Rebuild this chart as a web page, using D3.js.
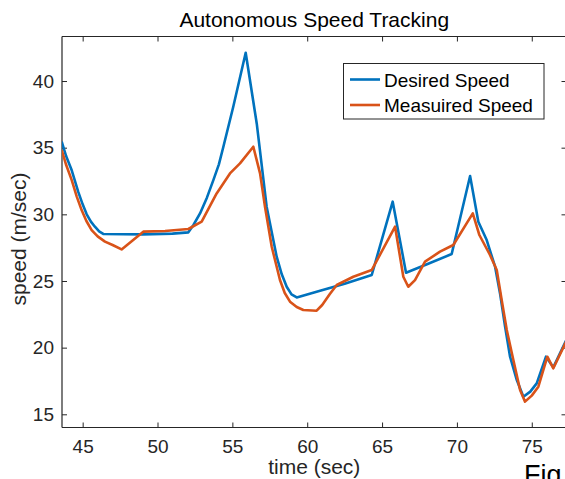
<!DOCTYPE html>
<html><head><meta charset="utf-8">
<script src="https://cdn.jsdelivr.net/npm/d3@7"></script>
<style>body{margin:0;background:#fff;}svg{display:block;}</style>
</head><body>
<script>
const desiredTime  = [43.6,43.9,44.27,44.7,45.0,45.27,45.55,45.82,46.1,46.4,49.0,51.0,52.06,52.4,52.84,53.3,53.73,54.1,54.4,55.06,55.89,56.63,57.29,57.96,58.3,58.63,58.95,59.3,60.86,62.5,64.31,65.71,66.6,68.0,69.65,70.88,71.43,71.99,72.55,72.88,73.22,73.55,74.0,74.44,74.9,75.33,75.95,76.44,77.32];
const desiredSpeed = [35.45,34.35,33.3,31.7,30.75,30.0,29.45,29.07,28.72,28.52,28.5,28.55,28.65,29.2,30.07,31.25,32.57,33.75,35.07,38.07,42.12,36.8,30.57,26.82,25.5,24.57,24.0,23.77,24.27,24.8,25.45,30.95,25.62,26.25,27.02,32.87,29.45,28.07,26.07,24.07,21.57,19.32,17.57,16.32,16.7,17.32,19.32,18.52,20.6];
const measuredTime  = [43.6,43.9,44.27,44.6,44.93,45.25,45.6,46.0,46.49,47.0,47.6,49.05,50.5,52.06,52.95,53.95,54.84,55.51,56.4,56.85,57.18,57.63,58.18,58.5,58.85,59.3,59.74,60.63,61.0,61.5,61.97,63.08,64.31,65.87,66.42,66.75,67.2,67.87,68.87,69.76,71.06,71.5,72.21,72.66,72.99,73.33,73.77,74.22,74.55,75.0,75.44,76.04,76.44,77.32];
const measuredSpeed = [34.82,33.7,32.57,31.35,30.32,29.5,28.82,28.35,27.95,27.7,27.37,28.7,28.75,28.9,29.45,31.57,33.07,33.82,35.07,33.07,30.57,27.57,25.07,24.1,23.45,23.05,22.82,22.77,23.2,24.0,24.7,25.32,25.82,29.07,25.32,24.57,25.07,26.45,27.2,27.7,30.07,28.45,26.95,25.82,23.57,21.32,19.07,16.82,15.95,16.4,17.07,19.32,18.45,20.5];
const xTicks = [45,50,55,60,65,70,75];
const yTicks = [15,20,25,30,35,40];
const seriesNames = ["Desired Speed","Measuired Speed"];
const seriesColors = ["#0072BD","#D95319"];

const W=565,H=479;
const L=62,R=566.5,T=36.5,B=427.5;
const svg=d3.select("body").append("svg").attr("width",W).attr("height",H);
const x=d3.scaleLinear().domain([43.62,77.32]).range([L,R]);
const y=d3.scaleLinear().domain([14.01,43.34]).range([B,T]);
const font="Liberation Sans, Arial, Helvetica, sans-serif";
const axisCol="#262626";

svg.append("defs").append("clipPath").attr("id","clip").append("rect")
  .attr("x",L).attr("y",T).attr("width",R-L).attr("height",B-T);

// axes
const bx=svg.append("g").attr("transform",`translate(0,${B})`)
  .call(d3.axisBottom(x).tickValues(xTicks).tickSize(-5).tickPadding(12).tickFormat(d3.format("d")));
const tx=svg.append("g").attr("transform",`translate(0,${T})`)
  .call(d3.axisTop(x).tickValues(xTicks).tickSize(-5).tickFormat(""));
const ly=svg.append("g").attr("transform",`translate(${L},0)`)
  .call(d3.axisLeft(y).tickValues(yTicks).tickSize(-5).tickPadding(8).tickFormat(d3.format("d")));
const ry=svg.append("g").attr("transform",`translate(${R},0)`)
  .call(d3.axisRight(y).tickValues(yTicks).tickSize(-5).tickFormat(""));
[bx,tx,ly,ry].forEach(g=>{
  g.select(".domain").attr("stroke",axisCol).attr("stroke-width",1.2);
  g.selectAll(".tick line").attr("stroke",axisCol).attr("stroke-width",1);
  g.selectAll(".tick text").attr("fill",axisCol).style("font-family",font).style("font-size","19px");
});
bx.select(".domain").attr("d",`M${L},0H${R}`);
tx.select(".domain").attr("d",`M${L},0H${R}`);
ly.select(".domain").attr("d",`M0,${T}V${B}`);
ry.select(".domain").attr("d",`M0,${T}V${B}`);
bx.selectAll(".tick text").attr("dy","0.71em");

const line=d3.line().x(d=>x(d[0])).y(d=>y(d[1])).curve(d3.curveLinear);
const series=[d3.zip(desiredTime,desiredSpeed),d3.zip(measuredTime,measuredSpeed)];
const plot=svg.append("g").attr("clip-path","url(#clip)");
plot.selectAll("path.s").data(series).join("path").attr("class","s")
  .attr("d",line).attr("fill","none")
  .attr("stroke",(d,i)=>seriesColors[i])
  .attr("stroke-width",2.6).attr("stroke-linejoin","round");

// legend
const lg=svg.append("g");
lg.append("rect").attr("x",343.5).attr("y",63.5).attr("width",200.5).attr("height",55.5)
  .attr("fill","#fff").attr("stroke",axisCol).attr("stroke-width",1);
seriesNames.forEach((n,i)=>{
  const yy=79.5+i*25.5;
  lg.append("line").attr("x1",350).attr("x2",380).attr("y1",yy).attr("y2",yy)
    .attr("stroke",seriesColors[i]).attr("stroke-width",2.6);
  lg.append("text").attr("x",384).attr("y",yy+7).text(n)
    .attr("fill","#000").style("font-family",font).style("font-size","19px");
});

// title and labels
svg.append("text").attr("x",(L+R)/2).attr("y",26.5).attr("text-anchor","middle")
  .text("Autonomous Speed Tracking").attr("fill","#000").style("font-family",font).style("font-size","21px");
svg.append("text").attr("x",(L+R)/2).attr("y",474).attr("text-anchor","middle")
  .text("time (sec)").attr("fill",axisCol).style("font-family",font).style("font-size","21px");
svg.append("text").attr("transform","translate(26,239) rotate(-90)").attr("text-anchor","middle")
  .text("speed (m/sec)").attr("fill",axisCol).style("font-family",font).style("font-size","21px");
svg.append("text").attr("x",524).attr("y",484).text("Fig")
  .attr("fill","#000").style("font-family",font).style("font-size","27px");
</script>
</body></html>
